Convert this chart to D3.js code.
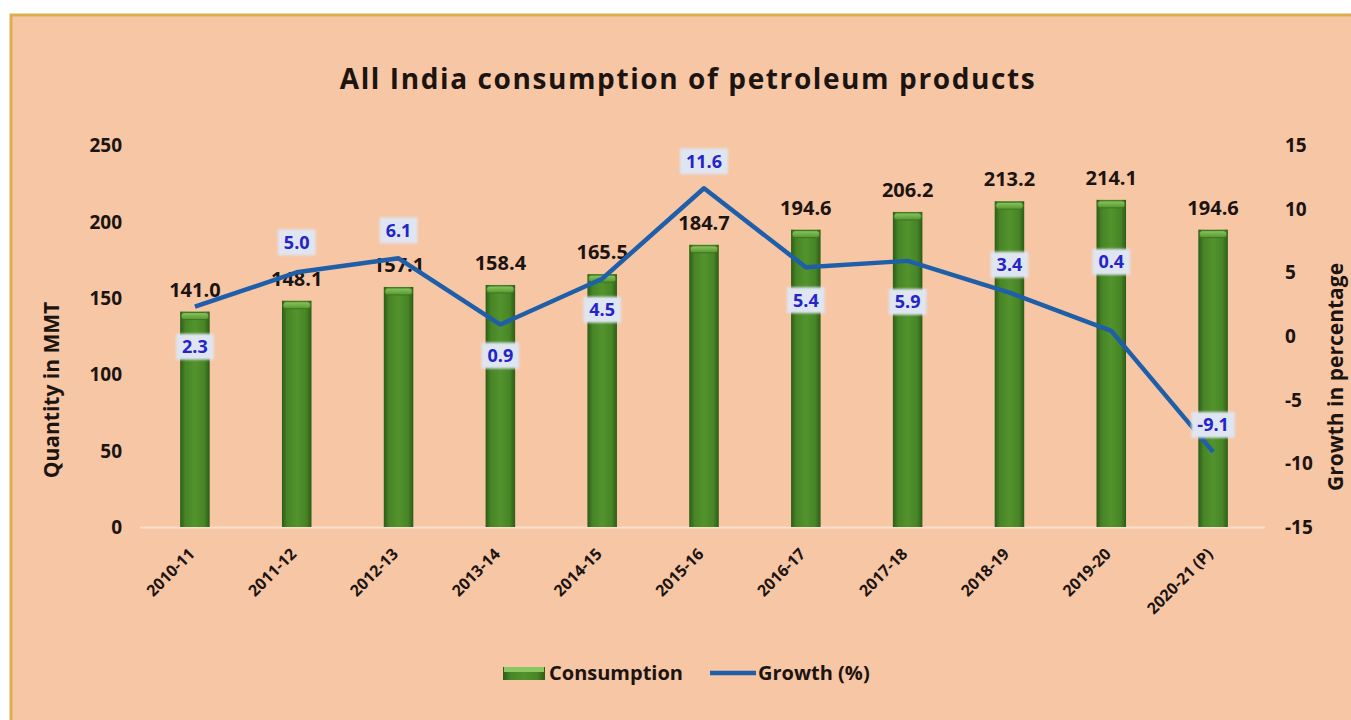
<!DOCTYPE html>
<html>
<head>
<meta charset="utf-8">
<script src="https://cdn.jsdelivr.net/npm/d3@7"></script>
<style>
    body{margin:0;background:#fff;}
    text{font-family:"Open Sans",sans-serif;font-weight:bold;fill:#1c1410;}
</style>
</head>
<body>
<div id="chart"></div>
<script>
//data
var years=['2010-11','2011-12','2012-13','2013-14','2014-15','2015-16','2016-17','2017-18','2018-19','2019-20','2020-21 (P)'];
var consumption=[141.0,148.1,157.1,158.4,165.5,184.7,194.6,206.2,213.2,214.1,194.6];
var growth=[2.3,5.0,6.1,0.9,4.5,11.6,5.4,5.9,3.4,0.4,-9.1];
var leftTicks=[0,50,100,150,200,250];
var rightTicks=[-15,-10,-5,0,5,10,15];
//growth label placement (px from the point, as set in the original)
var growthLabelDy=[40,-30,-28,31,31,-27,33,41,-28,-69,-27];

var W=1351,H=720;
var svg=d3.select('#chart').append('svg').attr('width',W).attr('height',H);

var defs=svg.append('defs');
var g1=defs.append('linearGradient').attr('id','barGrad').attr('x1','0').attr('x2','1').attr('y1','0').attr('y2','0');
g1.append('stop').attr('offset','0%').attr('stop-color','#2c5c16');
g1.append('stop').attr('offset','18%').attr('stop-color','#478526');
g1.append('stop').attr('offset','50%').attr('stop-color','#53932d');
g1.append('stop').attr('offset','82%').attr('stop-color','#478526');
g1.append('stop').attr('offset','100%').attr('stop-color','#2c5c16');
var g2=defs.append('linearGradient').attr('id','capGrad').attr('x1','0').attr('x2','0').attr('y1','0').attr('y2','1');
g2.append('stop').attr('offset','0%').attr('stop-color','#8cc660');
g2.append('stop').attr('offset','100%').attr('stop-color','#56962f');
defs.append('filter').attr('id','soft').append('feGaussianBlur').attr('stdDeviation',1.2);

//background panel
svg.append('rect').attr('x',11).attr('y',15).attr('width',W+20).attr('height',H+20)
    .attr('fill','#f6c6a5').attr('stroke','#dcae50').attr('stroke-width',3);

//scales
var x=d3.scaleBand().domain(years).range([144,1264]).paddingInner(0.71).paddingOuter(0.355);
var yL=d3.scaleLinear().domain([0,250]).range([527,145]);
var yR=d3.scaleLinear().domain([-15,15]).range([527,145]);
var bw=x.bandwidth();
function cx(d){return x(d)+bw/2;}
function plain(d){return String(d);}

//title
svg.append('text').attr('x',688).attr('y',89).attr('text-anchor','middle')
    .style('font-size','28px').style('letter-spacing','1.6px').text('All India consumption of petroleum products');

//axes
var axL=svg.append('g').attr('transform','translate(122,0)')
    .call(d3.axisLeft(yL).tickValues(leftTicks).tickFormat(plain).tickSize(0).tickPadding(0));
var axR=svg.append('g').attr('transform','translate(1285,0)')
    .call(d3.axisRight(yR).tickValues(rightTicks).tickFormat(plain).tickSize(0).tickPadding(0));
[axL,axR].forEach(function(a){
    a.select('.domain').remove();
    a.selectAll('text').style('font-size','19px').attr('fill','#1c1410').attr('dy','0.35em');
});

var axB=svg.append('g').attr('transform','translate(0,527)')
    .call(d3.axisBottom(x).tickSize(0));
axB.select('.domain').remove();
axB.selectAll('text').attr('fill','#1c1410').style('font-size','16px')
    .attr('x',0).attr('y',0).attr('dy',0).attr('text-anchor','end')
    .attr('transform','translate('+(bw/2-14)+',28) rotate(-45)');

//baseline
svg.append('line').attr('x1',140).attr('x2',1265).attr('y1',527.5).attr('y2',527.5)
    .attr('stroke','#fbe0cd').attr('stroke-width',2);

//axis titles
svg.append('text').attr('transform','translate(59,390) rotate(-90)').attr('text-anchor','middle')
    .style('font-size','21px').text('Quantity in MMT');
svg.append('text').attr('transform','translate(1343,377) rotate(-90)').attr('text-anchor','middle')
    .style('font-size','21px').text('Growth in percentage');

//bars
var bars=svg.append('g').selectAll('g.bar').data(years).enter().append('g').attr('class','bar');
bars.append('rect')
    .attr('x',function(d){return x(d);})
    .attr('y',function(d,i){return yL(consumption[i]);})
    .attr('width',bw)
    .attr('height',function(d,i){return yL(0)-yL(consumption[i]);})
    .attr('fill','url(#barGrad)');
bars.append('rect')
    .attr('x',function(d){return x(d)+1;})
    .attr('y',function(d,i){return yL(consumption[i])+1;})
    .attr('width',bw-2).attr('height',7).attr('rx',3)
    .attr('fill','url(#capGrad)').attr('stroke','#3d7420').attr('stroke-width',1);

//bar value labels
svg.append('g').selectAll('text').data(years).enter().append('text')
    .attr('x',cx)
    .attr('y',function(d,i){return yL(consumption[i])-15;})
    .attr('text-anchor','middle').style('font-size','20px')
    .text(function(d,i){return consumption[i].toFixed(1);});

//growth line
var line=d3.line().x(function(d,i){return cx(years[i]);}).y(function(d){return yR(d);});
svg.append('path').datum(growth).attr('d',line)
    .attr('fill','none').attr('stroke','#1f5fa9').attr('stroke-width',4.5).attr('stroke-linejoin','round');

//growth labels
var gl=svg.append('g').selectAll('g').data(growth).enter().append('g')
    .attr('transform',function(d,i){return 'translate('+cx(years[i])+','+(yR(d)+growthLabelDy[i])+')';});
gl.each(function(d){
    var t=d3.select(this).append('text').attr('text-anchor','middle').attr('dy','0.36em')
        .style('font-size','18px').style('fill','#2424c8').text(d.toFixed(1));
    var w=t.node().getComputedTextLength();
    d3.select(this).insert('rect','text').attr('x',-w/2-6).attr('y',-13).attr('width',w+12).attr('height',26)
        .attr('fill','#dfe5f1').attr('filter','url(#soft)');
});

//legend
var lg=svg.append('g');
lg.append('rect').attr('x',503).attr('y',667).attr('width',42).attr('height',13).attr('fill','url(#barGrad)');
lg.append('rect').attr('x',504).attr('y',667).attr('width',40).attr('height',5).attr('fill','#8cc660');
lg.append('text').attr('x',549).attr('y',680).style('font-size','20px').text('Consumption');
lg.append('line').attr('x1',710).attr('x2',756).attr('y1',673).attr('y2',673)
    .attr('stroke','#1f5fa9').attr('stroke-width',4.5);
lg.append('text').attr('x',758).attr('y',680).style('font-size','20px').text('Growth (%)');
</script>
</body>
</html>
